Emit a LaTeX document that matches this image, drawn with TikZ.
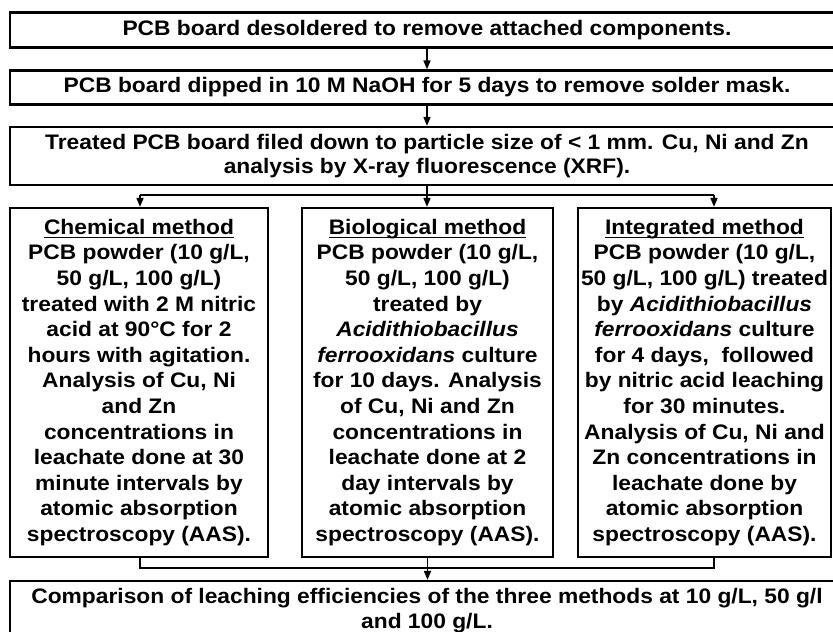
\documentclass[tikz,border=0pt]{standalone}
\usepackage{fontspec}
\setmainfont{Liberation Sans}[FakeStretch=1.085]
\usepackage{tikz}
\usetikzlibrary{shapes, arrows.meta, positioning, calc}

% underlined column headings
\newsavebox{\headbox}
\newcommand{\heading}[1]{\sbox{\headbox}{#1}%
  \rlap{\rule[-3.8pt]{\wd\headbox}{1.3pt}}\usebox{\headbox}}

\begin{document}
\begin{tikzpicture}[x=1pt, y=-1pt,
    stage/.style={draw, line width=2.2pt, minimum width=834pt, inner sep=0pt,
      align=center, font=\bfseries\fontsize{21}{24.5}\selectfont},
    method/.style={stage, minimum height=349pt,
      font=\bfseries\fontsize{21}{25.6}\selectfont},
    line/.style={line width=1.6pt},
    link/.style={line, -{Triangle[length=9pt, width=7pt]}}]
  \useasboundingbox (0,0) rectangle (833,632);

  % preparation of the boards
  \node[stage, minimum height=35pt] (desolder) at (427,30)
    {PCB board desoldered to remove attached components.};
  \node[stage, minimum height=34pt] (naoh) at (427,87.5)
    {PCB board dipped in 10 M NaOH for 5 days to remove solder mask.};
  \node[stage, minimum height=58pt] (xrf) at (427,156)
    {Treated PCB board filed down to particle size of < 1 mm. Cu, Ni and Zn\\
     analysis by X-ray fluorescence (XRF).};

  % the three leaching routes
  \node[method, minimum width=258pt] (chem) at (139,382.5) {%
    \heading{Chemical method}\\
    PCB powder (10 g/L,\\
    50 g/L, 100 g/L)\\
    treated with 2 M nitric\\
    acid at 90°C for 2\\
    hours with agitation.\\
    Analysis of Cu, Ni\\
    and Zn\\
    concentrations in\\
    leachate done at 30\\
    minute intervals by\\
    atomic absorption\\
    spectroscopy (AAS).};
  \node[method, minimum width=251pt] (bio) at (427.5,382.5) {%
    \heading{Biological method}\\
    PCB powder (10 g/L,\\
    50 g/L, 100 g/L)\\
    treated by\\
    \textit{Acidithiobacillus}\\
    \textit{ferrooxidans} culture\\
    for 10 days. Analysis\\
    of Cu, Ni and Zn\\
    concentrations in\\
    leachate done at 2\\
    day intervals by\\
    atomic absorption\\
    spectroscopy (AAS).};
  \node[method, minimum width=253pt] (integ) at (704.5,382.5) {%
    \heading{Integrated method}\\
    PCB powder (10 g/L,\\
    50 g/L, 100 g/L) treated\\
    by \textit{Acidithiobacillus}\\
    \textit{ferrooxidans} culture\\
    for 4 days,~ followed\\
    by nitric acid leaching\\
    for 30 minutes.\\
    Analysis of Cu, Ni and\\
    Zn concentrations in\\
    leachate done by\\
    atomic absorption\\
    spectroscopy (AAS).};

  \node[stage, minimum height=59pt] (compare) at (427,610.5)
    {Comparison of leaching efficiencies of the three methods at 10 g/L, 50 g/l\\
     and 100 g/L.};

  % connectors
  \coordinate (lcol) at (140,195);
  \coordinate (rcol) at (714,195);
  \coordinate (join) at (427,568);

  \draw[link] (desolder) -- (naoh);
  \draw[link] (naoh) -- (xrf);
  \draw[link] (xrf.south) -- (xrf.south |- bio.north);
  \draw[line] (lcol) -- (rcol);
  \draw[link] (lcol) -- (lcol |- chem.north);
  \draw[link] (rcol) -- (rcol |- integ.north);

  \draw[line] (chem.south -| lcol) |- (rcol |- join) -- (integ.south -| rcol);
  \draw[link] (bio.south) -- (bio.south |- compare.north);
\end{tikzpicture}
\end{document}
